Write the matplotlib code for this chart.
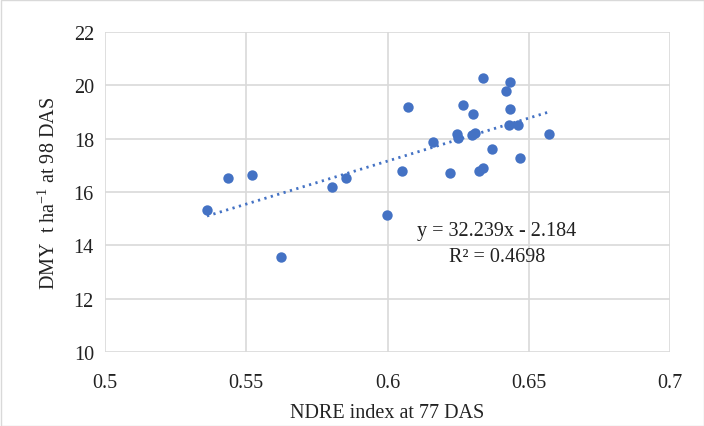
import matplotlib
matplotlib.use("Agg")
import matplotlib.pyplot as plt
import numpy as np

ndre = [0.5361, 0.5434, 0.5519, 0.5623, 0.5804, 0.5853, 0.5999, 0.6052, 0.6071,
        0.6162, 0.6220, 0.6245, 0.6250, 0.6266, 0.6304, 0.6300, 0.6311, 0.6337,
        0.6325, 0.6339, 0.6370, 0.6418, 0.6433, 0.6433, 0.6431, 0.6463, 0.6470, 0.6570]
dmy = [15.34, 16.53, 16.62, 13.56, 16.18, 16.52, 15.14, 16.78, 19.20,
       17.88, 16.72, 18.17, 18.02, 19.25, 18.91, 18.15, 18.20, 20.27,
       16.80, 16.91, 17.63, 19.79, 20.14, 19.10, 18.50, 18.51, 17.28, 18.17]
slope, intercept = 32.239, -2.184
xticks = [0.5, 0.55, 0.6, 0.65, 0.7]
yticks = [10, 12, 14, 16, 18, 20, 22]

plt.rcParams['font.family'] = ['Liberation Serif', 'DejaVu Serif']
W, H = 704, 427
fig = plt.figure(figsize=(W/100, H/100), dpi=100)
ax = fig.add_axes([105/W, 1-353/H, (670-105)/W, (353-33)/H])

blue = '#4472C4'
tc = '#222222'
fs = 14.5
xs = np.array([min(ndre), max(ndre)])
ax.plot(xs, slope*xs + intercept, color=blue, lw=2.0, linestyle=(0, (0.8, 1.6)), zorder=2)
ax.scatter(ndre, dmy, s=56, color=blue, zorder=3, linewidths=0)

ax.set_xlim(0.5, 0.7)
ax.set_ylim(10, 22)
ax.set_xticks(xticks)
ax.set_xticklabels([f"{t:g}" for t in xticks])
ax.set_yticks(yticks)
ax.grid(True, color='#d9d9d9', lw=1.2, zorder=0)
ax.set_axisbelow(True)
for s in ax.spines.values():
    s.set_visible(False)
ax.tick_params(length=0, labelsize=fs, colors=tc, pad=8)
ax.tick_params(axis='x', pad=15)

ax.set_xlabel("NDRE index at 77 DAS", fontsize=fs, color=tc, labelpad=8)
ax.set_ylabel("DMY  t ha$^{\\mathregular{-1}}$ at 98 DAS", fontsize=fs, color=tc, labelpad=10)

ax.text(0.6387, 14.54, f"y = {slope}x - {abs(intercept)}", ha='center', va='center',
        fontsize=fs, color=tc)
ax.text(0.6387, 13.57, "R² = 0.4698", ha='center', va='center', fontsize=fs, color=tc)

fig.patches.append(matplotlib.patches.Rectangle((0.5/W, 0.5/H), 1-1/W, 1-1/H,
                   transform=fig.transFigure, fill=False, edgecolor='#d9d9d9', lw=1))
fig.savefig("out.png", dpi=100)
